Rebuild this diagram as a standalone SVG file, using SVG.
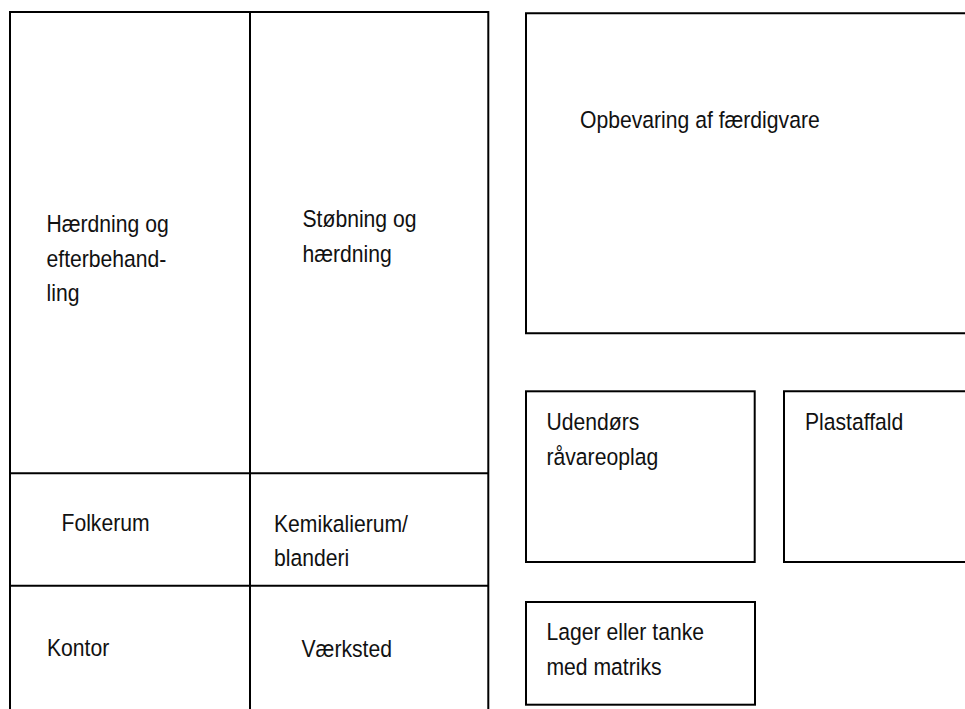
<svg xmlns="http://www.w3.org/2000/svg" width="965" height="709" viewBox="0 0 965 709">
  <style>
    .wall { fill: none; stroke: #000; stroke-width: 2; }
    /* condensed sans: regular face squeezed horizontally */
    .lbl { font-family: "Liberation Sans", Arial, sans-serif; font-size: 23.5px; fill: #111; }
  </style>
  <rect x="0" y="0" width="965" height="709" fill="#fff"/>

  <!-- Main building: open at the bottom edge -->
  <g id="building">
    <path class="wall" d="M10,709 V12 H488.3 V709"/>
    <line class="wall" x1="250" y1="12" x2="250" y2="709"/>
    <line class="wall" x1="10" y1="473.3" x2="488.3" y2="473.3"/>
    <line class="wall" x1="10" y1="585.7" x2="488.3" y2="585.7"/>
  </g>

  <g id="haerdning-efterbehandling">
    <text class="lbl" transform="translate(46.5,232) scale(0.9,1)">Hærdning og</text>
    <text class="lbl" transform="translate(46.5,266.5) scale(0.9,1)">efterbehand-</text>
    <text class="lbl" transform="translate(46.5,301) scale(0.9,1)">ling</text>
  </g>

  <g id="stoebning-haerdning">
    <text class="lbl" transform="translate(302.5,227) scale(0.9,1)">Støbning og</text>
    <text class="lbl" transform="translate(302.5,261.5) scale(0.9,1)">hærdning</text>
  </g>

  <g id="folkerum">
    <text class="lbl" transform="translate(61.5,530.5) scale(0.9,1)">Folkerum</text>
  </g>

  <g id="kemikalierum">
    <text class="lbl" transform="translate(274,531.5) scale(0.9,1)">Kemikalierum/</text>
    <text class="lbl" transform="translate(274,566) scale(0.9,1)">blanderi</text>
  </g>

  <g id="kontor">
    <text class="lbl" transform="translate(47,656) scale(0.9,1)">Kontor</text>
  </g>

  <g id="vaerksted">
    <text class="lbl" transform="translate(301.5,656.5) scale(0.9,1)">Værksted</text>
  </g>

  <!-- Finished goods storage, runs off the right edge -->
  <g id="faerdigvare">
    <path class="wall" d="M966,13.3 H526 V333.3 H966"/>
    <text class="lbl" transform="translate(580,128) scale(0.9,1)">Opbevaring af færdigvare</text>
  </g>

  <g id="raavareoplag">
    <rect class="wall" x="526" y="391.3" width="228.7" height="170.7"/>
    <text class="lbl" transform="translate(546.5,430) scale(0.9,1)">Udendørs</text>
    <text class="lbl" transform="translate(546.5,465) scale(0.9,1)">råvareoplag</text>
  </g>

  <g id="plastaffald">
    <path class="wall" d="M966,391.3 H784 V562 H966"/>
    <text class="lbl" transform="translate(805,430) scale(0.9,1)">Plastaffald</text>
  </g>

  <g id="lager-matriks">
    <rect class="wall" x="526" y="602" width="229" height="102.7"/>
    <text class="lbl" transform="translate(546.5,640) scale(0.9,1)">Lager eller tanke</text>
    <text class="lbl" transform="translate(546.5,675) scale(0.9,1)">med matriks</text>
  </g>

  <g id="connectors"></g>
</svg>
